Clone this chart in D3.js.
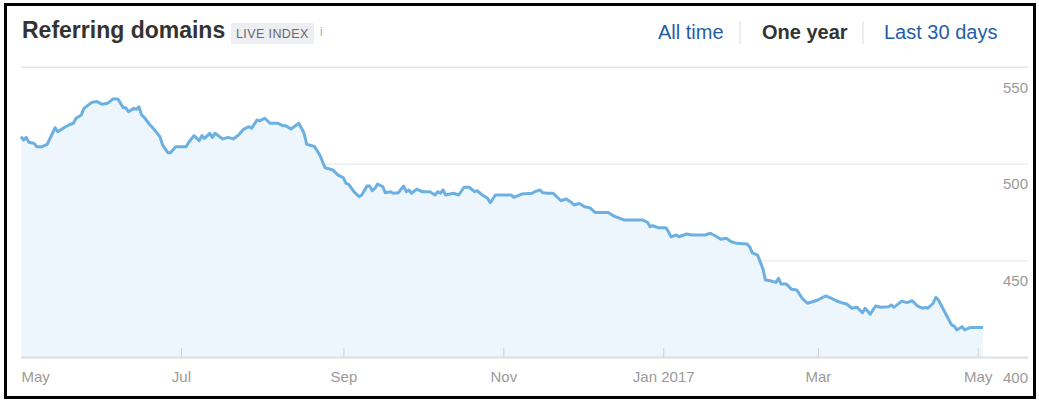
<html>
<head>
<meta charset="utf-8">
<style>
    body { margin: 0; background: #fff; }
    svg text { font-family: "Liberation Sans", Arial, Helvetica, sans-serif; }
    .grid line { stroke: #e6e6e6; }
    .grid path { display: none; }
    .ylab text { fill: #9a9a9a; font-size: 15px; }
    .ylab path, .ylab line { display: none; }
    .xticks line { stroke: #cfcfcf; }
    .xticks path { display: none; }
    .xlab text { fill: #9a9a9a; font-size: 15px; }
    .xlab path, .xlab line { display: none; }
</style>
</head>
<body>
<div id="chart"></div>
<script src="https://cdnjs.cloudflare.com/ajax/libs/d3/7.8.5/d3.min.js"></script>
<script>
    // referring domains, one year
    var dates = [
        '2016-05-01','2016-05-02','2016-05-03','2016-05-04','2016-05-06','2016-05-07','2016-05-09','2016-05-11',
        '2016-05-13','2016-05-14','2016-05-15','2016-05-18','2016-05-20','2016-05-21','2016-05-22','2016-05-24',
        '2016-05-25','2016-05-28','2016-05-30','2016-06-01','2016-06-03','2016-06-05','2016-06-07','2016-06-09',
        '2016-06-10','2016-06-11','2016-06-13','2016-06-14','2016-06-15','2016-06-16','2016-06-17','2016-06-19',
        '2016-06-21','2016-06-23','2016-06-24','2016-06-26','2016-06-27','2016-06-29','2016-07-01','2016-07-03',
        '2016-07-04','2016-07-06','2016-07-08','2016-07-09','2016-07-10','2016-07-12','2016-07-13','2016-07-14',
        '2016-07-17','2016-07-19','2016-07-21','2016-07-23','2016-07-25','2016-07-27','2016-07-28','2016-07-30',
        '2016-07-31','2016-08-02','2016-08-04','2016-08-07','2016-08-09','2016-08-10','2016-08-12','2016-08-15',
        '2016-08-17','2016-08-18','2016-08-20','2016-08-21','2016-08-23','2016-08-25','2016-08-28','2016-08-30',
        '2016-09-01','2016-09-02','2016-09-03','2016-09-05','2016-09-07','2016-09-08','2016-09-10','2016-09-11',
        '2016-09-12','2016-09-13','2016-09-14','2016-09-16','2016-09-17','2016-09-19','2016-09-20','2016-09-22',
        '2016-09-23','2016-09-24','2016-09-25','2016-09-26','2016-09-27','2016-09-29','2016-10-01','2016-10-04',
        '2016-10-06','2016-10-07','2016-10-08','2016-10-09','2016-10-10','2016-10-13','2016-10-15','2016-10-17',
        '2016-10-19','2016-10-21','2016-10-22','2016-10-24','2016-10-26','2016-10-27','2016-10-29','2016-11-04',
        '2016-11-05','2016-11-08','2016-11-12','2016-11-13','2016-11-15','2016-11-16','2016-11-18','2016-11-20',
        '2016-11-21','2016-11-23','2016-11-25','2016-11-27','2016-11-28','2016-11-30','2016-12-02','2016-12-04',
        '2016-12-06','2016-12-11','2016-12-13','2016-12-15','2016-12-17','2016-12-24','2016-12-26','2016-12-27',
        '2016-12-28','2016-12-30','2017-01-02','2017-01-03','2017-01-04','2017-01-06','2017-01-07','2017-01-10',
        '2017-01-12','2017-01-17','2017-01-19','2017-01-21','2017-01-23','2017-01-25','2017-01-27','2017-01-29',
        '2017-02-02','2017-02-03','2017-02-04','2017-02-06','2017-02-08','2017-02-09','2017-02-11','2017-02-13',
        '2017-02-14','2017-02-15','2017-02-17','2017-02-19','2017-02-21','2017-02-23','2017-02-25','2017-02-27',
        '2017-03-01','2017-03-03','2017-03-04','2017-03-06','2017-03-08','2017-03-10','2017-03-12','2017-03-14',
        '2017-03-16','2017-03-18','2017-03-19','2017-03-21','2017-03-23','2017-03-25','2017-03-28','2017-03-29',
        '2017-03-30','2017-04-02','2017-04-04','2017-04-06','2017-04-08','2017-04-10','2017-04-11','2017-04-12',
        '2017-04-14','2017-04-15','2017-04-16','2017-04-18','2017-04-21','2017-04-22','2017-04-23','2017-04-25',
        '2017-04-26','2017-04-28','2017-05-03'
    ];
    var domains = [
        514.0,512.2,513.6,511.1,510.5,508.8,508.8,510.0,
        515.7,518.6,516.5,519.1,520.4,520.9,523.5,525.2,
        528.6,531.7,532.1,530.7,531.2,533.4,533.4,528.9,
        528.9,526.9,528.6,528.1,529.4,525.2,524.0,520.4,
        517.4,514.0,509.7,505.7,505.7,508.8,508.8,508.8,
        511.1,514.5,511.9,514.5,513.1,515.7,513.6,515.7,
        512.8,513.6,512.8,514.8,517.9,519.1,518.3,522.6,
        522.1,523.5,520.9,520.9,519.6,519.6,517.9,520.9,
        515.7,510.0,509.3,508.8,504.5,497.9,496.7,494.1,
        492.7,489.8,489.3,485.5,482.9,483.8,488.4,488.4,
        486.0,487.2,489.5,488.1,485.0,485.5,484.7,485.0,
        486.8,488.4,485.5,486.4,484.7,486.8,485.5,485.5,
        483.8,485.5,484.7,486.4,483.8,484.7,483.8,487.8,
        487.8,485.5,486.0,483.8,482.1,479.8,483.8,483.8,
        482.6,484.3,484.7,485.5,486.4,485.0,484.7,484.7,
        483.4,480.8,481.7,479.9,478.6,479.4,477.7,477.2,
        474.8,474.8,473.0,472.0,470.9,470.9,469.7,467.4,
        467.9,466.9,466.9,464.8,462.1,463.1,462.2,463.6,
        463.1,463.1,464.0,462.6,460.9,461.4,459.6,458.8,
        458.4,457.0,453.9,452.7,445.8,439.8,439.4,438.6,
        440.7,437.7,437.7,435.0,434.6,430.4,427.8,428.6,
        429.5,430.9,431.6,430.4,429.1,428.1,427.4,425.2,
        425.7,422.9,425.2,422.1,426.4,425.7,426.0,426.9,
        425.7,428.9,428.1,429.1,426.4,425.2,425.7,425.2,
        427.8,430.9,429.5,424.3,416.6,416.0,414.0,415.7,
        414.0,415.2,415.2
    ];
    var tickDates = ['2016-05-01','2016-07-01','2016-09-01','2016-11-01','2017-01-01','2017-03-01','2017-05-01'];
    var tickLabels = ['May','Jul','Sep','Nov','Jan 2017','Mar','May'];
    var yTicks = [400, 450, 500, 550];
    var tabs = ['All time', 'One year', 'Last 30 days'];
    var activeTab = 'One year';

    var width = 1039, height = 403;
    var parse = d3.utcParse('%Y-%m-%d');
    var data = dates.map(function (d, i) { return {date: parse(d), v: domains[i]}; });

    var svg = d3.select('#chart').append('svg')
        .attr('width', width)
        .attr('height', height);

    var x = d3.scaleUtc()
        .domain([parse('2016-05-01'), parse('2017-05-03')])
        .range([21, 983]);
    var y = d3.scaleLinear()
        .domain([400, 550])
        .range([357, 67]);

    // grid lines, right edge at 1028
    svg.append('g')
        .attr('class', 'grid')
        .attr('transform', 'translate(1028,0)')
        .call(d3.axisLeft(y).tickValues(yTicks.slice(1)).tickSize(1007).tickFormat(''));

    // area + line
    svg.append('path')
        .datum(data)
        .attr('fill', '#eef6fd')
        .attr('d', d3.area().x(function (d) { return x(d.date); }).y0(y(400)).y1(function (d) { return y(d.v); }));

    svg.append('path')
        .datum(data)
        .attr('fill', 'none')
        .attr('stroke', '#6cb0e3')
        .attr('stroke-width', 3)
        .attr('stroke-linejoin', 'round')
        .attr('d', d3.line().x(function (d) { return x(d.date); }).y(function (d) { return y(d.v); }));

    // x axis line
    svg.append('line')
        .attr('x1', 21).attr('x2', 1028)
        .attr('y1', y(400) + 0.5).attr('y2', y(400) + 0.5)
        .attr('stroke', '#dedede').attr('stroke-width', 2);

    // ticks going up from the baseline
    svg.append('g')
        .attr('class', 'xticks')
        .attr('transform', 'translate(0,' + y(400) + ')')
        .call(d3.axisTop(x).tickValues(tickDates.slice(1).map(parse)).tickSize(9).tickFormat(''));

    var xl = svg.append('g')
        .attr('class', 'xlab')
        .attr('transform', 'translate(0,' + y(400) + ')')
        .call(d3.axisBottom(x).tickValues(tickDates.map(parse)).tickSize(0)
            .tickFormat(function (d, i) { return tickLabels[i]; }));
    xl.selectAll('text').attr('y', 25).attr('dy', 0);
    xl.select('.tick text').attr('text-anchor', 'start');

    var yl = svg.append('g')
        .attr('class', 'ylab')
        .attr('transform', 'translate(1028,0)')
        .call(d3.axisLeft(y).tickValues(yTicks).tickSize(0).tickPadding(0));
    yl.selectAll('text').attr('dy', 25).attr('text-anchor', 'end');

    // header
    svg.append('text')
        .attr('x', 22).attr('y', 38)
        .attr('font-size', 23).attr('font-weight', 'bold')
        .attr('fill', '#333')
        .text('Referring domains');

    svg.append('rect')
        .attr('x', 231).attr('y', 23).attr('width', 83).attr('height', 21)
        .attr('rx', 2).attr('fill', '#eceef2');
    svg.append('text')
        .attr('x', 236).attr('y', 38)
        .attr('font-size', 12.5).attr('letter-spacing', 0.4)
        .attr('fill', '#66686e')
        .text('LIVE INDEX');
    svg.append('text')
        .attr('x', 320).attr('y', 36)
        .attr('font-size', 12).attr('fill', '#aaa')
        .text('i');

    var tabX = [658, 762, 884];
    svg.selectAll('text.tab')
        .data(tabs)
        .enter()
        .append('text')
        .attr('class', 'tab')
        .attr('x', function (d, i) { return tabX[i]; })
        .attr('y', 39)
        .attr('font-size', 20)
        .attr('font-weight', function (d) { return d === activeTab ? 'bold' : 'normal'; })
        .attr('fill', function (d) { return d === activeTab ? '#333' : '#245ea8'; })
        .text(function (d) { return d; });

    [740, 863].forEach(function (sx) {
        svg.append('line')
            .attr('x1', sx).attr('x2', sx).attr('y1', 21).attr('y2', 44)
            .attr('stroke', '#dcdcdc');
    });

    // header divider = top grid line
    svg.append('line')
        .attr('x1', 21).attr('x2', 1028)
        .attr('y1', 67).attr('y2', 67)
        .attr('stroke', '#e6e6e6');

    // outer frame
    svg.append('rect')
        .attr('x', 5.5).attr('y', 4.5).attr('width', 1029).attr('height', 393)
        .attr('fill', 'none').attr('stroke', '#000').attr('stroke-width', 3);
</script>
</body>
</html>
